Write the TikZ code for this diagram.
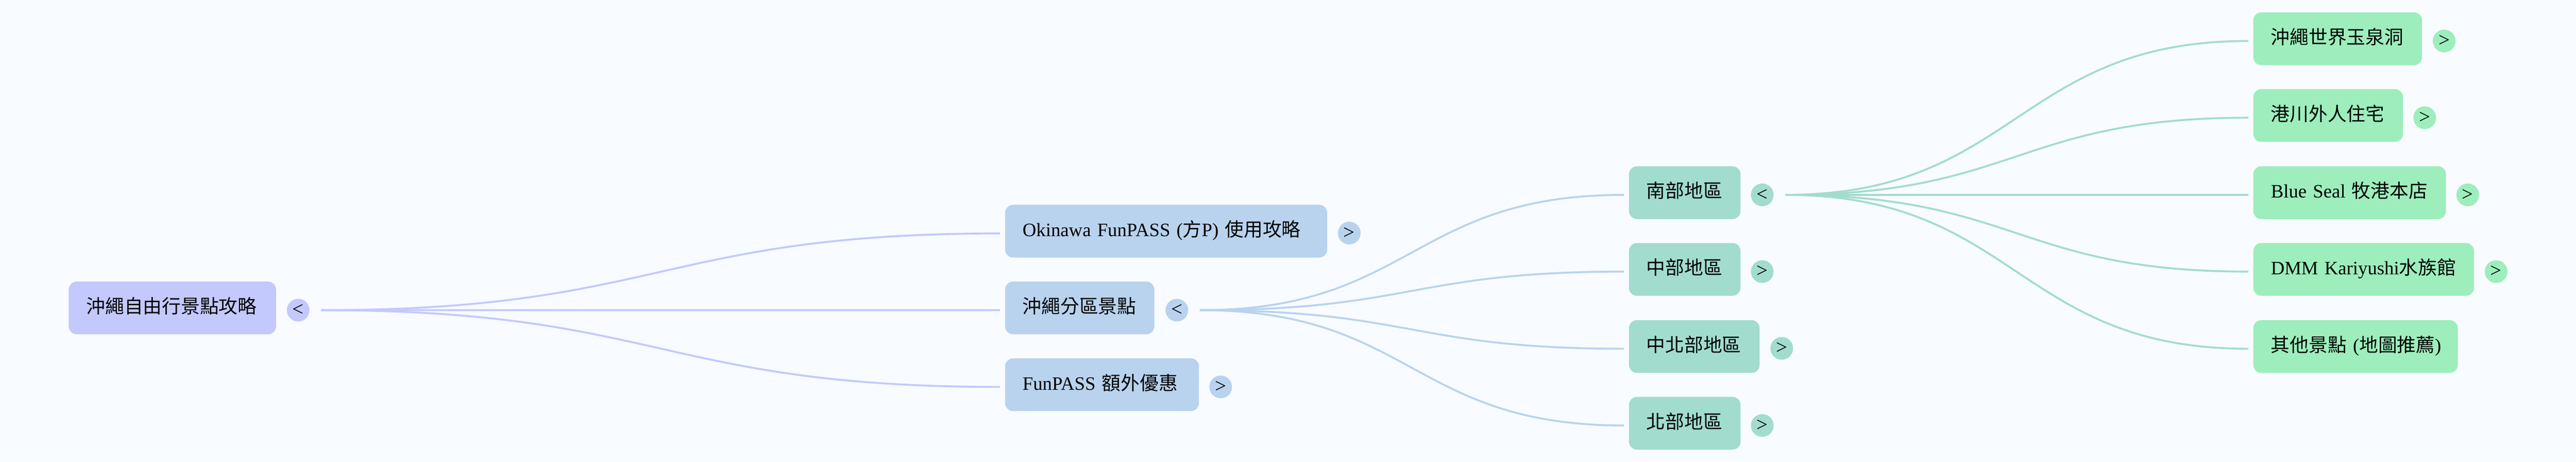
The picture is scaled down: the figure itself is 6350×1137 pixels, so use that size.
\documentclass[tikz,border=0pt]{standalone}
\usepackage{fontspec}
\setmainfont{Liberation Serif}
\newfontfamily\cjk{Noto Sans CJK TC}
\newcommand{\zh}[1]{{\cjk #1}}

\definecolor{pagecol}{HTML}{F8FBFF}
\definecolor{rootcol}{HTML}{C3C9FD}
\definecolor{bluecol}{HTML}{B9D3EE}
\definecolor{tealcol}{HTML}{A2DCCF}
\definecolor{greencol}{HTML}{9DEEBC}

\tikzset{
	every picture/.style={line width=0.75pt},
	mapbox/.style={anchor=north west, rounded corners=15pt, inner xsep=32.5pt, inner ysep=0pt, align=left, text width=#1-65pt, text height=58.5pt, text depth=39pt, font=\fontsize{35}{40}\selectfont},
	togg/.style={circle, inner sep=0pt, minimum size=42pt, font=\fontsize{37}{40}\selectfont},
	linkout/.style={xshift=21pt},
	linkin/.style={xshift=-9pt, yshift=4.1pt},
	link/.style={line width=3.5pt}
}

\begin{document}
\begin{tikzpicture}[x=0.75pt,y=0.75pt,yscale=-1,xscale=1]
	\path [use as bounding box, fill=pagecol] (0,0) rectangle (6350,1137);

	% Text Node
	\node [mapbox=383.25pt, fill=rootcol] (root) at (169,693) {\zh{沖繩自由行景點攻略}};
	\node [togg, fill=rootcol] (roottog) at (735,764) {<};

	% Text Node
	\node [mapbox=595.5pt, fill=bluecol] (okinawa) at (2477,504) {Okinawa FunPASS (\zh{方}P) \zh{使用攻略}};
	\node [togg, fill=bluecol] (okinawatog) at (3326,574) {>};
	\node [mapbox=276pt, fill=bluecol] (region) at (2477,693) {\zh{沖繩分區景點}};
	\node [togg, fill=bluecol] (regiontog) at (2901,764) {<};
	\node [mapbox=358.5pt, fill=bluecol] (extra) at (2477,882) {FunPASS \zh{額外優惠}};
	\node [togg, fill=bluecol] (extratog) at (3009,953) {>};

	% Text Node
	\node [mapbox=206.25pt, fill=tealcol] (south) at (4015,409) {\zh{南部地區}};
	\node [togg, fill=tealcol] (southtog) at (4344,480) {<};
	\node [mapbox=206.25pt, fill=tealcol] (central) at (4015,598) {\zh{中部地區}};
	\node [togg, fill=tealcol] (centraltog) at (4344,669) {>};
	\node [mapbox=241.5pt, fill=tealcol] (midnorth) at (4015,788) {\zh{中北部地區}};
	\node [togg, fill=tealcol] (midnorthtog) at (4392,858) {>};
	\node [mapbox=206.25pt, fill=tealcol] (north) at (4015,977) {\zh{北部地區}};
	\node [togg, fill=tealcol] (northtog) at (4344,1048) {>};

	% Text Node
	\node [mapbox=312pt, fill=greencol] (cave) at (5554,30) {\zh{沖繩世界玉泉洞}};
	\node [togg, fill=greencol] (cavetog) at (6025,101) {>};
	\node [mapbox=276.75pt, fill=greencol] (houses) at (5554,219) {\zh{港川外人住宅}};
	\node [togg, fill=greencol] (housestog) at (5977,290) {>};
	\node [mapbox=356.25pt, fill=greencol] (seal) at (5554,409) {Blue Seal \zh{牧港本店}};
	\node [togg, fill=greencol] (sealtog) at (6083,480) {>};
	\node [mapbox=408pt, fill=greencol] (dmm) at (5554,598) {DMM~Kariyushi\zh{水族館}};
	\node [togg, fill=greencol] (dmmtog) at (6153,669) {>};
	\node [mapbox=378pt, fill=greencol] (others) at (5554,788) {\zh{其他景點}~(\zh{地圖推薦})};

	%Curved Lines
	\draw [link, rootcol] ([linkout]roottog.east) .. controls +(837,0) and +(-837,0) .. ([linkin]okinawa.west);
	\draw [link, rootcol] ([linkout]roottog.east) .. controls +(837,0) and +(-837,0) .. ([linkin]region.west);
	\draw [link, rootcol] ([linkout]roottog.east) .. controls +(837,0) and +(-837,0) .. ([linkin]extra.west);

	%Curved Lines
	\draw [link, bluecol] ([linkout]regiontog.east) .. controls +(523,0) and +(-523,0) .. ([linkin]south.west);
	\draw [link, bluecol] ([linkout]regiontog.east) .. controls +(523,0) and +(-523,0) .. ([linkin]central.west);
	\draw [link, bluecol] ([linkout]regiontog.east) .. controls +(523,0) and +(-523,0) .. ([linkin]midnorth.west);
	\draw [link, bluecol] ([linkout]regiontog.east) .. controls +(523,0) and +(-523,0) .. ([linkin]north.west);

	%Curved Lines
	\draw [link, tealcol] ([linkout]southtog.east) .. controls +(570,0) and +(-570,0) .. ([linkin]cave.west);
	\draw [link, tealcol] ([linkout]southtog.east) .. controls +(570,0) and +(-570,0) .. ([linkin]houses.west);
	\draw [link, tealcol] ([linkout]southtog.east) .. controls +(570,0) and +(-570,0) .. ([linkin]seal.west);
	\draw [link, tealcol] ([linkout]southtog.east) .. controls +(570,0) and +(-570,0) .. ([linkin]dmm.west);
	\draw [link, tealcol] ([linkout]southtog.east) .. controls +(570,0) and +(-570,0) .. ([linkin]others.west);

\end{tikzpicture}
\end{document}
